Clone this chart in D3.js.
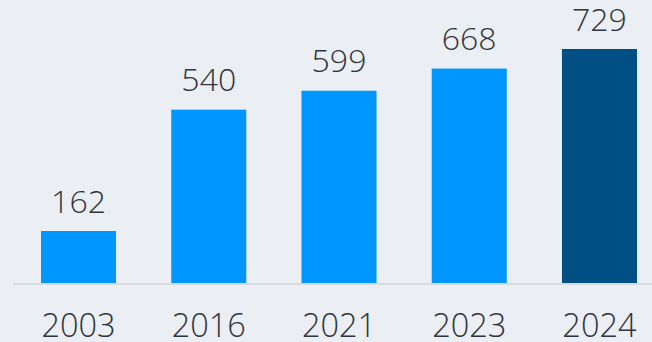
<!DOCTYPE html>
<html>
<head>
<meta charset="utf-8">
<script src="https://cdn.jsdelivr.net/npm/d3@7"></script>
<style>
  html, body { margin: 0; padding: 0; background: #ebeef2; }
  svg { display: block; }
  text { font-family: "Open Sans", "Noto Sans", sans-serif; font-weight: 300; fill: #2f3540; }
</style>
</head>
<body>
<svg id="chart" width="652" height="342"></svg>
<script>
const years = ["2003", "2016", "2021", "2023", "2024"];
const values = [162, 540, 599, 668, 729];
const highlightYear = "2024";

const width = 652, height = 342;
const baseY = 283;

const svg = d3.select("#chart");

const x = d3.scaleBand()
  .domain(years)
  .range([13.4, 664.6])
  .paddingInner(0.424)
  .paddingOuter(0.212);

const y = d3.scaleLinear()
  .domain([0, 729])
  .range([baseY, 49]);

// baseline
svg.append("line")
  .attr("x1", 13).attr("x2", width)
  .attr("y1", baseY + 1).attr("y2", baseY + 1)
  .attr("stroke", "#d6d9dd")
  .attr("stroke-width", 2);

const data = years.map((yr, i) => ({ year: yr, value: values[i] }));

svg.selectAll("rect.bar")
  .data(data)
  .join("rect")
  .attr("class", "bar")
  .attr("x", d => x(d.year))
  .attr("width", x.bandwidth())
  .attr("y", d => y(d.value))
  .attr("height", d => y(0) - y(d.value))
  .attr("fill", d => d.year === highlightYear ? "#004f84" : "#0096ff");

// value labels above bars
svg.selectAll("text.value")
  .data(data)
  .join("text")
  .attr("class", "value")
  .attr("x", d => x(d.year) + x.bandwidth() / 2)
  .attr("y", d => y(d.value) - 18.5)
  .attr("text-anchor", "middle")
  .attr("font-size", 32)
  .text(d => d.value);

// category axis
const axis = svg.append("g")
  .attr("transform", `translate(0,${baseY})`)
  .call(d3.axisBottom(x).tickSize(0).tickPadding(0));
axis.select(".domain").remove();
axis.selectAll("text")
  .attr("font-size", 32.5)
  .attr("dy", null)
  .attr("y", 53.5)
  .style("font-family", "'Open Sans', 'Noto Sans', sans-serif")
  .style("font-weight", 300)
  .style("fill", "#2f3540");
</script>
</body>
</html>
